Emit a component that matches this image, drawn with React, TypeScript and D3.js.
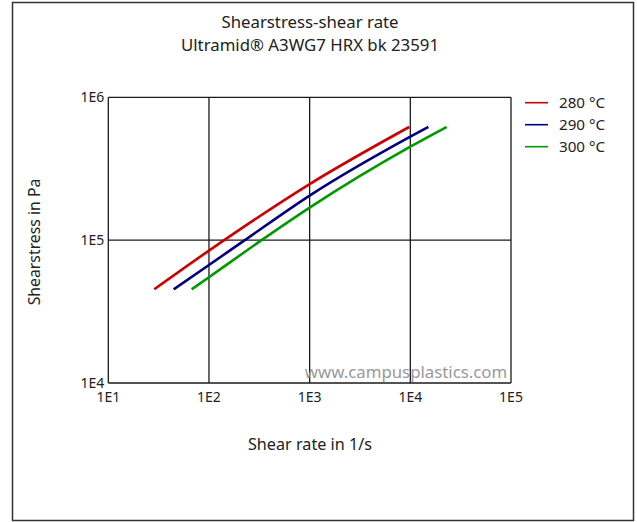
import React from "react";
import * as d3 from "d3";

const W = 637;
const H = 522;

const titleLines = ["Shearstress-shear rate", "Ultramid® A3WG7 HRX bk 23591"];
const xTicks = [10, 100, 1000, 10000, 100000];
const xTickLabels = ["1E1", "1E2", "1E3", "1E4", "1E5"];
const yTicks = [10000, 100000, 1000000];
const yTickLabels = ["1E4", "1E5", "1E6"];

const seriesNames = ["280 °C", "290 °C", "300 °C"];
const seriesColors = ["#cc0000", "#000080", "#009900"];

const rate280 = [28.6, 100, 1000, 9750];
const stress280 = [45300, 84500, 247000, 620000];
const rate290 = [44.6, 100, 227, 1000, 10000, 15100];
const stress290 = [45300, 67000, 100000, 205000, 530000, 620000];
const rate300 = [67.3, 100, 333, 1000, 10000, 22900];
const stress300 = [45300, 55000, 100000, 169000, 451000, 620000];

const rates = [rate280, rate290, rate300];
const stresses = [stress280, stress290, stress300];

const plot = { left: 108.3, right: 511, top: 97.3, bottom: 383 };

export default function App() {
  const x = d3.scaleLog().domain([10, 100000]).range([plot.left, plot.right]);
  const y = d3.scaleLog().domain([10000, 1000000]).range([plot.bottom, plot.top]);
  const line = d3
    .line<[number, number]>()
    .x((d) => x(d[0]))
    .y((d) => y(d[1]))
    .curve(d3.curveMonotoneX);

  const font = "'Noto Sans', 'Open Sans', sans-serif";
  const gridColor = "#1a1a1a";

  return (
    <svg
      width={W}
      height={H}
      style={{ position: "absolute", left: 0, top: 0, fontFamily: font }}
    >
      <rect x={0} y={0} width={W} height={H} fill="#fff" />
      <rect x={12.5} y={2.5} width={621} height={518} fill="none" stroke="#333" strokeWidth={1.5} />

      {titleLines.map((t, i) => (
        <text key={t} x={310} y={28 + i * 23} textAnchor="middle" fontSize={16.8} fill="#222">
          {t}
        </text>
      ))}

      {xTicks.map((v) => (
        <line key={"gx" + v} x1={x(v)} x2={x(v)} y1={plot.top} y2={plot.bottom} stroke={gridColor} strokeWidth={1.3} />
      ))}
      {yTicks.map((v) => (
        <line key={"gy" + v} x1={plot.left} x2={plot.right} y1={y(v)} y2={y(v)} stroke={gridColor} strokeWidth={1.3} />
      ))}

      {xTicks.map((v, i) => (
        <text key={"xl" + v} x={x(v)} y={plot.bottom + 19} textAnchor="middle" fontSize={14} fill="#222">
          {xTickLabels[i]}
        </text>
      ))}
      {yTicks.map((v, i) => (
        <text key={"yl" + v} x={plot.left - 4} y={y(v) + 5} textAnchor="end" fontSize={14} fill="#222">
          {yTickLabels[i]}
        </text>
      ))}

      <text x={310} y={450} textAnchor="middle" fontSize={16.2} fill="#222">
        Shear rate in 1/s
      </text>
      <text
        transform={`translate(40,242) rotate(-90)`}
        textAnchor="middle"
        fontSize={15.8}
        fill="#222"
      >
        Shearstress in Pa
      </text>

      <text x={406} y={378} textAnchor="middle" fontSize={16.8} fill="#999">
        www.campusplastics.com
      </text>

      {rates.map((r, i) => (
        <path
          key={"s" + i}
          d={line(r.map((v, j) => [v, stresses[i][j]] as [number, number])) || ""}
          fill="none"
          stroke={seriesColors[i]}
          strokeWidth={2.6}
        />
      ))}

      {seriesNames.map((n, i) => (
        <g key={n}>
          <line x1={525} x2={548} y1={102.7 + i * 22} y2={102.7 + i * 22} stroke={seriesColors[i]} strokeWidth={1.6} />
          <text x={559} y={108 + i * 22} fontSize={15.2} fill="#222">
            {n}
          </text>
        </g>
      ))}
    </svg>
  );
}
